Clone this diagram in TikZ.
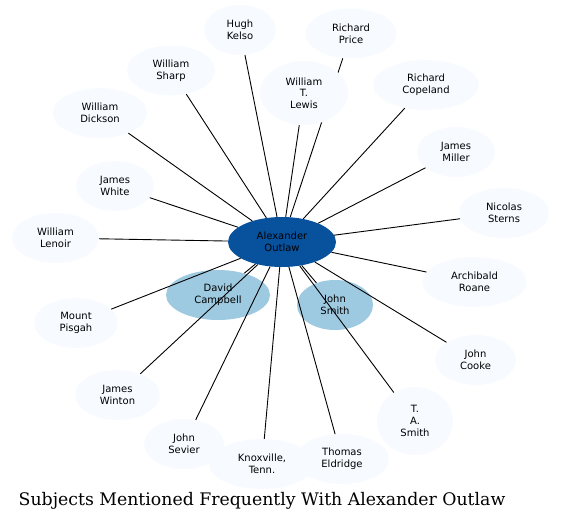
\documentclass[tikz,border=0pt]{standalone}
\usepackage{fontspec}
\setmainfont{DejaVu Serif}
\setsansfont{DejaVu Sans}
\usetikzlibrary{shapes.geometric}
\definecolor{pale}{HTML}{F7FBFF}
\definecolor{mid}{HTML}{9ECAE1}
\definecolor{deep}{HTML}{08519C}
\tikzset{
  subject/.style={ellipse,fill=pale,inner sep=0pt,align=center,minimum height=50},
  link/.style={line width=0.9pt}
}
\begin{document}
\begin{tikzpicture}[x=1pt,y=-1pt,font=\sffamily\fontsize{10}{11.7}\selectfont]
	\useasboundingbox (0,0) rectangle (561,525);
	% hub and the price edge that runs behind Lewis
	\node[subject,fill=deep,minimum width=108] (outlaw) at (282,242) {Alexander\\Outlaw};
	\node[subject,minimum width=91] (price) at (351,33.5) {Richard\\Price};
	\draw[link] (outlaw)--(price);
	\node[subject,minimum width=88,minimum height=64] (lewis) at (304,93) {William\\T.\\Lewis};
	% the others
	\node[subject,minimum width=72] (kelso) at (240,30) {Hugh\\Kelso};
	\node[subject,minimum width=88] (sharp) at (171,70.5) {William\\Sharp};
	\node[subject,minimum width=94] (dickson) at (100,113) {William\\Dickson};
	\node[subject,minimum width=106] (copeland) at (426,85) {Richard\\Copeland};
	\node[subject,minimum width=78] (miller) at (456,152) {James\\Miller};
	\node[subject,minimum width=78] (white) at (115,186) {James\\White};
	\node[subject,minimum width=90] (sterns) at (504,213) {Nicolas\\Sterns};
	\node[subject,minimum width=87] (lenoir) at (55.5,238) {William\\Lenoir};
	\node[subject,minimum width=104] (roane) at (474.5,282) {Archibald\\Roane};
	\node[subject,minimum width=84] (pisgah) at (76,323) {Mount\\Pisgah};
	\node[subject,minimum width=81] (cooke) at (475.5,360) {John\\Cooke};
	\node[subject,minimum width=85] (winton) at (117.5,395) {James\\Winton};
	\node[subject,minimum width=76,minimum height=68] (tasmith) at (415,421) {T.\\A.\\Smith};
	\node[subject,minimum width=80] (sevier) at (184,444) {John\\Sevier};
	\node[subject,minimum width=106] (knox) at (262,464) {Knoxville,\\Tenn.};
	\node[subject,minimum width=94] (eldridge) at (342,459) {Thomas\\Eldridge};
	\node[subject,fill=mid,minimum width=104] (campbell) at (218,295) {David\\Campbell};
	\node[subject,fill=mid,minimum width=76] (jsmith) at (335,305) {John\\Smith};
	\foreach \n in {kelso,lewis,sharp,dickson,copeland,miller,white,sterns,lenoir,roane,
	  pisgah,cooke,winton,tasmith,sevier,knox,eldridge,campbell,jsmith}
	  \draw[link] (outlaw)--(\n);
	\node[font=\rmfamily\fontsize{17.3}{19}\selectfont,anchor=base,inner sep=0pt] (title) at (262,505) {Subjects Mentioned Frequently With Alexander Outlaw};
\end{tikzpicture}
\end{document}
